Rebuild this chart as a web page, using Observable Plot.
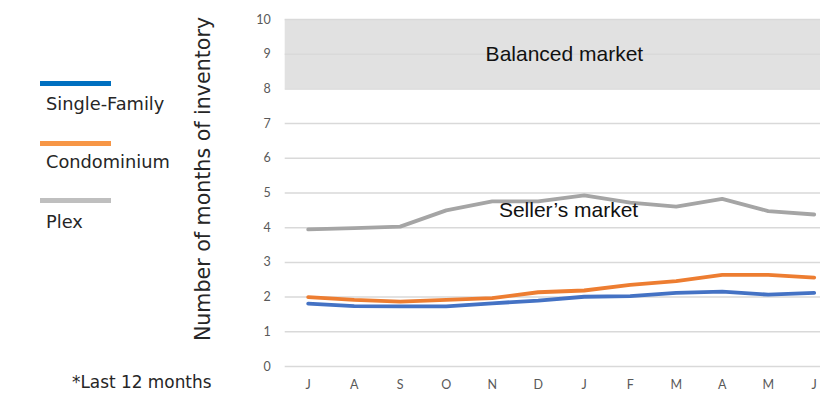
<!DOCTYPE html>
<html>
<head>
<meta charset="utf-8">
<script src="https://cdn.jsdelivr.net/npm/d3@7"></script>
<script src="https://cdn.jsdelivr.net/npm/@observablehq/plot@0.6"></script>
<style>
  html, body { margin: 0; padding: 0; background: #fff; }
  #wrap { position: relative; width: 820px; height: 393px; overflow: hidden; }
  #wrap svg { position: absolute; left: 0; top: 0; }
  .key { position: absolute; left: 40px; width: 71px; height: 5px; }
  .key-label { position: absolute; left: 46px; font-family: "DejaVu Sans", sans-serif; font-size: 17.8px; color: #262626; white-space: nowrap; }
  .footnote { position: absolute; left: 72px; top: 372px; font-family: "DejaVu Sans", sans-serif; font-size: 16.9px; color: #262626; white-space: nowrap; }
</style>
</head>
<body>
<div id="wrap"></div>
<script>
// Months (July to June) and months of inventory for each property type
const months = ["J", "A", "S", "O", "N", "D", "J", "F", "M", "A", "M", "J"];
const singleFamily = [1.81, 1.74, 1.73, 1.73, 1.82, 1.90, 2.01, 2.03, 2.12, 2.16, 2.07, 2.12];
const condominium  = [2.00, 1.92, 1.87, 1.92, 1.97, 2.14, 2.19, 2.35, 2.46, 2.64, 2.64, 2.56];
const plex         = [3.95, 3.99, 4.03, 4.50, 4.76, 4.76, 4.93, 4.72, 4.61, 4.83, 4.48, 4.38];

const seriesNames = ["Single-Family", "Condominium", "Plex"];
const seriesValues = [singleFamily, condominium, plex];
const lineColors = ["#4472c4", "#ed7d31", "#a5a5a5"];
const keyColors = ["#0070c0", "#f79646", "#bfbfbf"];

const yTicks = [0, 1, 2, 3, 4, 5, 6, 7, 8, 9, 10];
const balancedZone = [8, 10];
const zoneNotes = [
  {label: "Balanced market", x: 5.57, y: 9},
  {label: "Seller\u2019s market", x: 5.66, y: 4.5}
];
const yTitle = "Number of months of inventory";
const footnote = "*Last 12 months";

const rows = seriesNames.flatMap((name, s) =>
  seriesValues[s].map((v, i) => ({name, i, v}))
);

const chart = Plot.plot({
  width: 820,
  height: 393,
  marginLeft: 284.7,
  marginRight: 0,
  marginTop: 19,
  marginBottom: 27,
  style: {fontFamily: "Lato, sans-serif", background: "transparent", overflow: "hidden"},
  x: {type: "linear", domain: [-0.5, months.length - 0.5], range: [284.7, 836.7]},
  y: {domain: [0, 10]},
  color: {domain: seriesNames, range: lineColors},
  marks: [
    // shaded "balanced market" zone, across the whole plot width
    Plot.rect([balancedZone], {y1: d => d[0], y2: d => d[1], fill: "#e1e1e1"}),
    Plot.ruleY(yTicks, {stroke: "#d9d9d9", strokeWidth: 1.5}),
    Plot.axisY({ticks: yTicks, tickSize: 0, tickPadding: 14.5, fontSize: 12.5, fill: "#595959", label: null}),
    Plot.axisX({ticks: d3.range(months.length), tickFormat: i => months[i], tickSize: 0, tickPadding: 14, fontSize: 12.5, fill: "#595959", label: null}),
    Plot.lineY(rows, {x: "i", y: "v", z: "name", stroke: "name", strokeWidth: 3.8, curve: "linear"}),
    Plot.text(zoneNotes, {x: "x", y: "y", text: "label", fontFamily: "Liberation Sans, Arial, sans-serif", fontSize: 21, fill: "#111"}),
    Plot.text([yTitle], {text: d => d, frameAnchor: "left", textAnchor: "middle", rotate: -90, dx: -82, dy: -14, fontFamily: "DejaVu Sans, sans-serif", fontSize: 20.6, fill: "#262626"})
  ]
});

const wrap = document.getElementById("wrap");
wrap.appendChild(chart);

// legend on the left: a colour bar above each series name
const keyTops = [81, 141, 198];
const labelTops = [93, 151, 211];
seriesNames.forEach((name, s) => {
  const bar = document.createElement("div");
  bar.className = "key";
  bar.style.top = keyTops[s] + "px";
  bar.style.background = keyColors[s];
  wrap.appendChild(bar);
  const lab = document.createElement("div");
  lab.className = "key-label";
  lab.style.top = labelTops[s] + "px";
  lab.textContent = name;
  wrap.appendChild(lab);
});

const note = document.createElement("div");
note.className = "footnote";
note.textContent = footnote;
wrap.appendChild(note);
</script>
</body>
</html>
